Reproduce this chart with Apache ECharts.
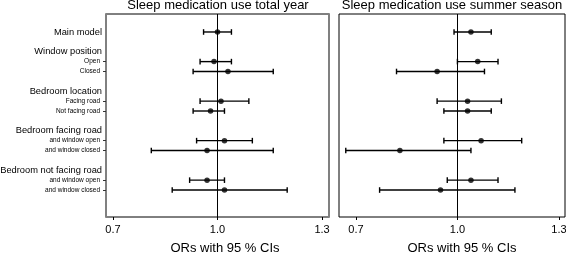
<!DOCTYPE html>
<html>
<head>
<meta charset="utf-8">
<script src="https://cdn.jsdelivr.net/npm/echarts@6/dist/echarts.min.js"></script>
<style>html,body{margin:0;padding:0;background:#fff}#c{width:566px;height:254px}</style>
</head>
<body>
<div id="c"></div>
<script>
// Row labels (empty string = blank spacer row)
const rowLabels = ['Main model', '', 'Window position', 'Open', 'Closed', '',
  'Bedroom location', 'Facing road', 'Not facing road', '',
  'Bedroom facing road', 'and window open', 'and window closed', '',
  'Bedroom not facing road', 'and window open', 'and window closed'];
// 1 = group header / main, 0 = sub-item
const rowIsHeader = [1, 0, 1, 0, 0, 0, 1, 0, 0, 0, 1, 0, 0, 0, 1, 0, 0];

const panelTitles = ['Sleep medication use total year', 'Sleep medication use summer season'];
const axisTitle = 'ORs with 95 % CIs';
const xTicks = [0.7, 1.0, 1.3];

// Total year: odds ratio, lower CI, upper CI (null = no estimate on that row)
const yearOR = [1.00, null, null, 0.99, 1.03, null, null, 1.01, 0.98, null, null, 1.02, 0.97, null, null, 0.97, 1.02];
const yearLo = [0.96, null, null, 0.95, 0.93, null, null, 0.95, 0.93, null, null, 0.94, 0.81, null, null, 0.92, 0.87];
const yearHi = [1.04, null, null, 1.04, 1.16, null, null, 1.09, 1.02, null, null, 1.10, 1.16, null, null, 1.02, 1.20];

// Summer season
const summerOR = [1.04, null, null, 1.06, 0.94, null, null, 1.03, 1.03, null, null, 1.07, 0.83, null, null, 1.04, 0.95];
const summerLo = [0.99, null, null, 1.00, 0.82, null, null, 0.94, 0.96, null, null, 0.96, 0.67, null, null, 0.97, 0.77];
const summerHi = [1.10, null, null, 1.12, 1.08, null, null, 1.13, 1.10, null, null, 1.19, 1.04, null, null, 1.12, 1.17];

const FONT = 'Liberation Sans, Arial, Helvetica, sans-serif';
const chart = echarts.init(document.getElementById('c'), null, {renderer: 'canvas'});

function points(or) {
  const out = [];
  or.forEach((v, i) => { if (v != null) out.push([v, i]); });
  return out;
}
function bars(lo, hi) {
  const out = [];
  lo.forEach((v, i) => { if (v != null) out.push([i, v, hi[i]]); });
  return out;
}
function renderErr(params, api) {
  const y = api.value(0), lo = api.value(1), hi = api.value(2);
  const a = api.coord([lo, y]), b = api.coord([hi, y]);
  const h = 2.8;
  const style = {stroke: '#000', lineWidth: 1.4};
  return {type: 'group', children: [
    {type: 'line', shape: {x1: a[0], y1: a[1], x2: b[0], y2: b[1]}, style: style},
    {type: 'line', shape: {x1: a[0], y1: a[1] - h, x2: a[0], y2: a[1] + h}, style: style},
    {type: 'line', shape: {x1: b[0], y1: b[1] - h, x2: b[0], y2: b[1] + h}, style: style}
  ]};
}

const subRows = [], labelRows = [];
rowLabels.forEach((l, i) => { if (l) { labelRows.push(i); if (!rowIsHeader[i]) subRows.push(i); } });

const yMin = -1.82, yMax = 18.73;
const grids = [
  {left: 106, top: 14, width: 223, height: 203, show: true, borderColor: '#000', borderWidth: 1,
    containLabel: false, outerBoundsMode: 'none'},
  {left: 339, top: 14, width: 226, height: 203, show: true, borderColor: '#000', borderWidth: 1,
    containLabel: false, outerBoundsMode: 'none'}
];
const xRanges = [[0.68, 1.32], [0.65, 1.318]];
const namePad = [[0, 0, 0, 15], [0, 0, 0, 20]];

const xAxes = xRanges.map((r, k) => ({
  type: 'value', gridIndex: k, min: r[0], max: r[1], position: 'bottom',
  splitLine: {show: false},
  axisLine: {show: false, onZero: false},
  axisTick: {show: true, customValues: xTicks, length: 3, lineStyle: {color: '#000', width: 1}},
  axisLabel: {customValues: xTicks, margin: 7, fontSize: 11, fontFamily: FONT, color: '#000',
    formatter: v => v.toFixed(1)},
  name: axisTitle, nameLocation: 'middle', nameGap: 25,
  nameTextStyle: {fontSize: 13, fontFamily: FONT, color: '#000', padding: namePad[k]}
}));

const yAxes = [
  {type: 'value', gridIndex: 0, inverse: true, min: yMin, max: yMax, position: 'left', z: 5,
    splitLine: {show: false},
    axisLine: {show: true, onZero: false, lineStyle: {color: '#808080', width: 2}},
    axisTick: {show: true, customValues: subRows, length: 3, lineStyle: {color: '#333', width: 1}},
    axisLabel: {customValues: labelRows, margin: 4, color: '#000',
      formatter: v => {
        const i = Math.round(v);
        return rowIsHeader[i] ? '{h|' + rowLabels[i] + '}' : '{s|' + rowLabels[i] + '}';
      },
      rich: {
        h: {fontSize: 9.3, fontFamily: FONT, color: '#000'},
        s: {fontSize: 6.5, fontFamily: FONT, color: '#000', padding: [0, 2, 0, 0]}
      }}},
  {type: 'value', gridIndex: 0, inverse: true, min: yMin, max: yMax, position: 'right', z: 5,
    splitLine: {show: false}, axisLabel: {show: false}, axisTick: {show: false},
    axisLine: {show: true, onZero: false, lineStyle: {color: '#808080', width: 2}}},
  {type: 'value', gridIndex: 1, inverse: true, min: yMin, max: yMax,
    splitLine: {show: false}, axisLabel: {show: false}, axisTick: {show: false},
    axisLine: {show: false, onZero: false}}
];

function panelSeries(k, or, lo, hi, yIdx) {
  return [
    {type: 'custom', xAxisIndex: k, yAxisIndex: yIdx, renderItem: renderErr,
      data: bars(lo, hi), encode: {x: [1, 2], y: 0}, silent: true, z: 3},
    {type: 'scatter', xAxisIndex: k, yAxisIndex: yIdx, data: points(or),
      symbol: 'circle', symbolSize: 5.5, itemStyle: {color: '#000'}, silent: true, z: 4,
      markLine: {silent: true, symbol: ['none', 'none'], label: {show: false},
        lineStyle: {color: '#000', width: 1, type: 'solid'},
        data: [{xAxis: 1}]}}
  ];
}

chart.setOption({
  animation: false,
  backgroundColor: '#fff',
  title: [
    {text: panelTitles[0], left: 218, top: -1, textAlign: 'center', padding: 0,
      textStyle: {fontSize: 13, fontWeight: 'normal', fontFamily: FONT, color: '#000'}},
    {text: panelTitles[1], left: 452, top: -1, textAlign: 'center', padding: 0,
      textStyle: {fontSize: 13, fontWeight: 'normal', fontFamily: FONT, color: '#000'}}
  ],
  grid: grids,
  xAxis: xAxes,
  yAxis: yAxes,
  series: [].concat(
    panelSeries(0, yearOR, yearLo, yearHi, 0),
    panelSeries(1, summerOR, summerLo, summerHi, 2)
  )
});
</script>
</body>
</html>
